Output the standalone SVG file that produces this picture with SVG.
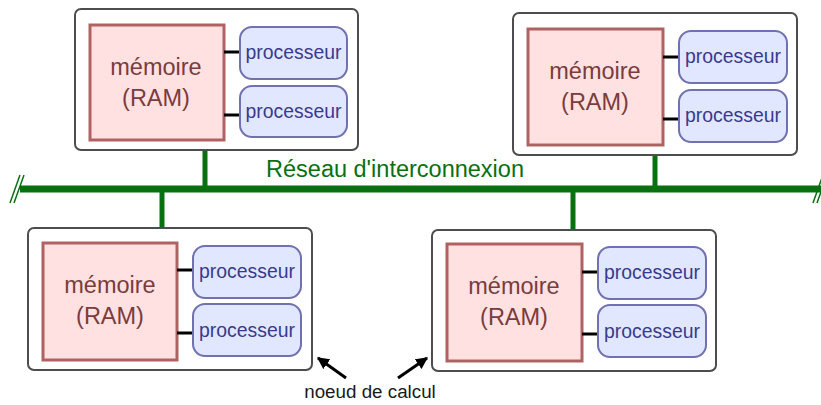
<svg xmlns="http://www.w3.org/2000/svg" width="821" height="405" viewBox="0 0 821 405">
<defs>
<style>
.node{fill:#ffffff;stroke:#4d4d4d;stroke-width:2}
.mem{fill:#ffe1e1;stroke:#b06262;stroke-width:3}
.memt{font-family:"Liberation Sans",Arial,sans-serif;font-size:23.5px;fill:#7a3c3c;text-anchor:middle}
.cpu{fill:#e1e7ff;stroke:#7171b0;stroke-width:2}
.cput{font-family:"Liberation Sans",Arial,sans-serif;font-size:19.4px;fill:#393a8c;text-anchor:middle}
.link{stroke:#000;stroke-width:3}
.net{stroke:#087010;fill:none}
.lbl{font-family:"Liberation Sans",Arial,sans-serif}
</style>
<marker id="ah" viewBox="0 0 10 10" refX="9" refY="5" markerWidth="4" markerHeight="4" orient="auto"><path d="M0,0 L10,5 L0,10 z" fill="#000"/></marker>
</defs>
<g id="connectors">
<line class="net" x1="20" y1="189" x2="821" y2="189" stroke-width="7"/>
<line class="net" x1="10" y1="203" x2="20" y2="175" stroke-width="1.5"/>
<line class="net" x1="14" y1="203" x2="24" y2="175" stroke-width="1.5"/>
<line class="net" x1="813" y1="203" x2="823" y2="175" stroke-width="1.5"/>
<line class="net" x1="817" y1="203" x2="827" y2="175" stroke-width="1.5"/>
<line class="net" x1="205" y1="150" x2="205" y2="189" stroke-width="5"/>
<line class="net" x1="655" y1="154" x2="655" y2="189" stroke-width="5"/>
<line class="net" x1="162" y1="189" x2="162" y2="228" stroke-width="5"/>
<line class="net" x1="573" y1="189" x2="573" y2="230" stroke-width="5"/>
<line x1="346" y1="378" x2="318" y2="358" stroke="#000" stroke-width="3" marker-end="url(#ah)"/>
<line x1="398" y1="378" x2="427" y2="358" stroke="#000" stroke-width="3" marker-end="url(#ah)"/>
</g>
<text class="lbl" x="395" y="177" font-size="23.5" fill="#087010" text-anchor="middle">Réseau d'interconnexion</text>
<text class="lbl" x="370" y="398" font-size="18.8" fill="#1a1a1a" text-anchor="middle">noeud de calcul</text>
<g id="node1">
<rect class="node" x="75" y="9" width="283" height="141" rx="6"/>
<rect class="mem" x="90" y="25" width="134" height="115"/>
<text class="memt" x="156" y="75">mémoire</text>
<text class="memt" x="156" y="106">(RAM)</text>
<line class="link" x1="224" y1="52" x2="240" y2="52"/>
<line class="link" x1="224" y1="115" x2="240" y2="115"/>
<rect class="cpu" x="240" y="27" width="107" height="52" rx="12"/>
<text class="cput" x="293.5" y="59">processeur</text>
<rect class="cpu" x="240" y="86" width="107" height="51" rx="12"/>
<text class="cput" x="293.5" y="118">processeur</text>
</g>
<g id="node2">
<rect class="node" x="513" y="13" width="284" height="142" rx="6"/>
<rect class="mem" x="528" y="29" width="135" height="116"/>
<text class="memt" x="595" y="79">mémoire</text>
<text class="memt" x="595" y="110">(RAM)</text>
<line class="link" x1="663" y1="57" x2="679" y2="57"/>
<line class="link" x1="663" y1="119" x2="679" y2="119"/>
<rect class="cpu" x="679" y="31" width="108" height="52" rx="12"/>
<text class="cput" x="733" y="63">processeur</text>
<rect class="cpu" x="679" y="90" width="108" height="52" rx="12"/>
<text class="cput" x="733" y="122">processeur</text>
</g>
<g id="node3">
<rect class="node" x="28" y="228" width="284" height="142" rx="6"/>
<rect class="mem" x="43" y="243" width="134" height="117"/>
<text class="memt" x="110" y="293">mémoire</text>
<text class="memt" x="110" y="324">(RAM)</text>
<line class="link" x1="177" y1="270" x2="193" y2="270"/>
<line class="link" x1="177" y1="333" x2="193" y2="333"/>
<rect class="cpu" x="193" y="246" width="108" height="52" rx="12"/>
<text class="cput" x="247" y="278">processeur</text>
<rect class="cpu" x="193" y="304" width="108" height="52" rx="12"/>
<text class="cput" x="247" y="337">processeur</text>
</g>
<g id="node4">
<rect class="node" x="432" y="230" width="284" height="141" rx="6"/>
<rect class="mem" x="447" y="244" width="135" height="117"/>
<text class="memt" x="514" y="294">mémoire</text>
<text class="memt" x="514" y="325">(RAM)</text>
<line class="link" x1="582" y1="272" x2="598" y2="272"/>
<line class="link" x1="582" y1="334" x2="598" y2="334"/>
<rect class="cpu" x="598" y="247" width="108" height="52" rx="12"/>
<text class="cput" x="652" y="279">processeur</text>
<rect class="cpu" x="598" y="305" width="108" height="52" rx="12"/>
<text class="cput" x="652" y="338">processeur</text>
</g>
</svg>
